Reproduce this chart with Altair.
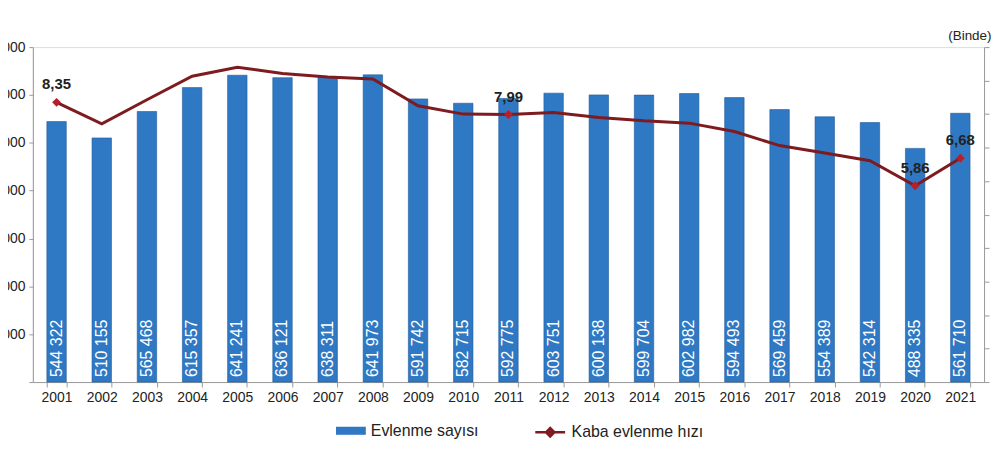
import altair as alt
import pandas as pd

years = [str(y) for y in range(2001, 2022)]
marriages = [544322, 510155, 565468, 615357, 641241, 636121, 638311, 641973,
             591742, 582715, 592775, 603751, 600138, 599704, 602982, 594493,
             569459, 554389, 542314, 488335, 561710]
rates = [8.35, 7.71, 8.43, 9.13, 9.40, 9.21, 9.11, 9.05, 8.25, 8.00, 7.99,
         8.05, 7.90, 7.80, 7.73, 7.48, 7.06, 6.84, 6.61, 5.86, 6.68]
labeled_years = ["2001", "2011", "2020", "2021"]
series_names = ["Evlenme sayısı", "Kaba evlenme hızı"]
left_ticks = [0, 100000, 200000, 300000, 400000, 500000, 600000, 700000]
right_ticks = [0, 1, 2, 3, 4, 5, 6, 7, 8, 9, 10]

df = pd.DataFrame({"year": years, "marriages": marriages, "rate": rates})

FONT = "Liberation Sans"
BLUE = "#2f78c4"
MAROON = "#7d1b1f"
MARKER = "#b3202c"
AXIS_GRAY = "#9a9a9a"

x = alt.X(
    "year:O", title=None,
    scale=alt.Scale(paddingInner=0.57, paddingOuter=0.31),
    axis=alt.Axis(labelAngle=0, labelFontSize=14, labelColor="#222", labelPadding=4,
                  tickBand="extent", tickSize=5, domainColor=AXIS_GRAY, tickColor=AXIS_GRAY,
                  labelFont=FONT),
)

bar_legend = alt.Legend(
    title=None, orient="none", legendX=305, legendY=371,
    symbolType="M-1,-0.27H1V0.27H-1Z", symbolSize=900, symbolStrokeWidth=0,
    symbolFillColor=BLUE, symbolOpacity=1,
    labelFontSize=16, labelFont=FONT, labelColor="#222", labelOffset=5,
)
line_legend = alt.Legend(
    title=None, orient="none", legendX=504, legendY=371,
    symbolType="M-1,0H1M-0.28,0L0,-0.28L0.28,0L0,0.28Z", symbolSize=900,
    symbolStrokeWidth=2.5, symbolFillColor=MARKER, symbolStrokeColor=MAROON, symbolOpacity=1,
    labelFontSize=16, labelFont=FONT, labelColor="#222", labelOffset=5,
)

fill_enc = alt.Fill("series:N", scale=alt.Scale(domain=[series_names[0]], range=[BLUE]),
                    legend=bar_legend)
stroke_enc = alt.Stroke("series:N", scale=alt.Scale(domain=[series_names[1]], range=[MAROON]),
                        legend=line_legend)

y_left = alt.Y(
    "marriages:Q", title=None,
    scale=alt.Scale(domain=[0, 700000], nice=False),
    axis=alt.Axis(values=left_ticks, grid=False, labelFontSize=14, labelColor="#222",
                  labelFont=FONT, tickSize=4, labelPadding=4,
                  domainColor=AXIS_GRAY, tickColor=AXIS_GRAY,
                  labelExpr="datum.value == 0 ? '' : replace(format(datum.value, ','), ',', ' ')"),
)

y_right = alt.Y(
    "rate:Q",
    scale=alt.Scale(domain=[0, 10], nice=False),
    axis=alt.Axis(orient="right", values=right_ticks, grid=False, labels=False,
                  tickSize=5, domainColor=AXIS_GRAY, tickColor=AXIS_GRAY,
                  title="(Binde)", titleAngle=0, titleX=7, titleY=-12,
                  titleAlign="right", titleBaseline="middle", titleFontSize=13.5,
                  titleFontWeight="normal", titleColor="#222", titleFont=FONT),
)

bars = alt.Chart(df).transform_calculate(
    series="'%s'" % series_names[0]
).mark_bar(stroke="#1e5a9a", strokeWidth=0.6).encode(x=x, y=y_left, fill=fill_enc)

bar_text = alt.Chart(df).transform_calculate(
    lbl="replace(format(datum.marriages, ','), ',', ' ')"
).mark_text(angle=270, align="left", baseline="middle", dx=5, fontSize=16,
            color="white", font=FONT).encode(x=x, y=alt.datum(0), text="lbl:N")

line = alt.Chart(df).transform_calculate(
    series="'%s'" % series_names[1]
).mark_line(strokeWidth=3).encode(x=x, y=y_right, stroke=stroke_enc)

labeled = alt.Chart(df).transform_filter(
    alt.FieldOneOfPredicate(field="year", oneOf=labeled_years)
)

points = labeled.mark_point(shape="diamond", filled=True, size=80, color=MARKER,
                            opacity=1).encode(x=x, y=y_right)

line_text = labeled.transform_calculate(
    lbl="replace(format(datum.rate, '.2f'), '.', ',')"
).mark_text(dy=-18, fontSize=15, fontWeight="bold", color="#222", font=FONT).encode(
    x=x, y=y_right, text="lbl:N")

left = alt.layer(bars, bar_text)
right = alt.layer(line, points, line_text)

chart = alt.layer(left, right).resolve_scale(y="independent").properties(
    width=957, height=337,
    autosize=alt.AutoSizeParams(type="none"),
    padding={"left": 25, "top": 38, "right": 8, "bottom": 66},
).configure_view(stroke=None).configure(font=FONT)

chart.save("out.html", embed_options={"renderer": "svg", "actions": False})
